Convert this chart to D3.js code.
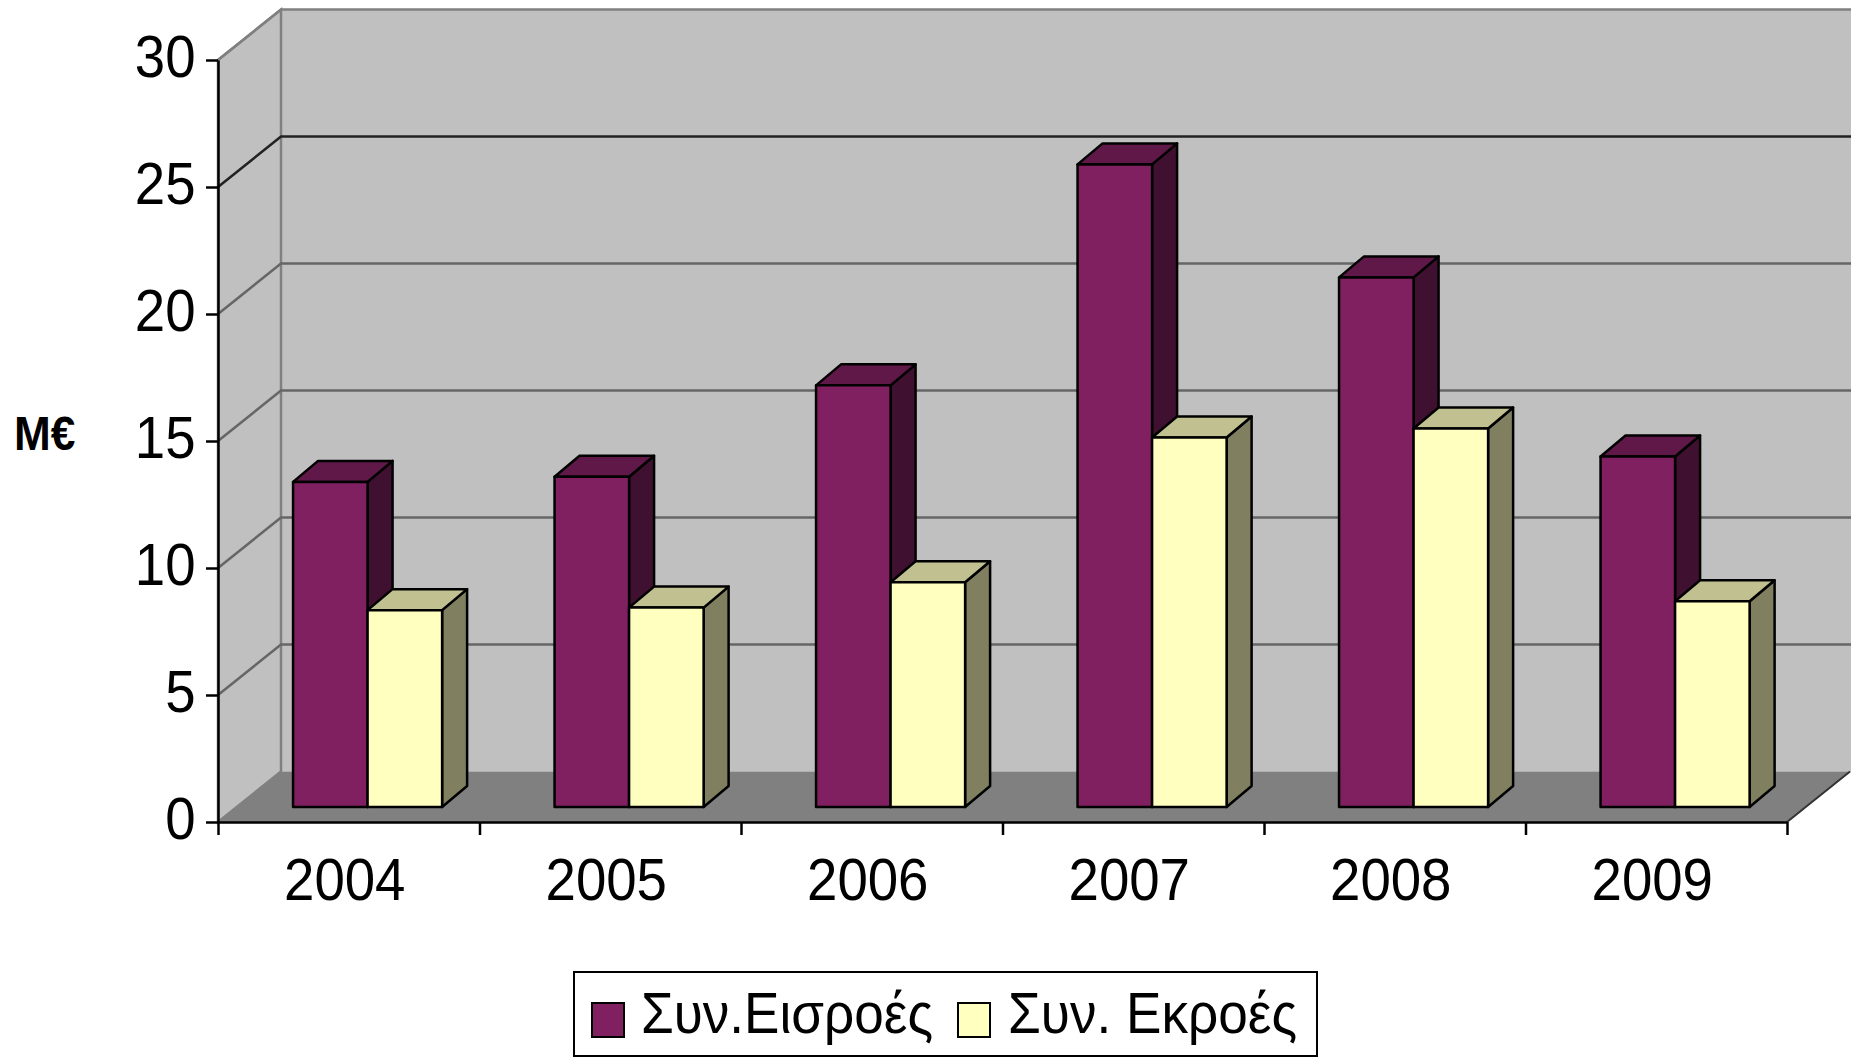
<!DOCTYPE html>
<html>
<head>
<meta charset="utf-8">
<script src="https://cdn.jsdelivr.net/npm/d3@7"></script>
<style>
html, body { margin: 0; padding: 0; background: #fff; overflow: hidden; }
text { font-family: "Liberation Sans", Arial, sans-serif; fill: #000; }
</style>
</head>
<body>
<script>
var years = ["2004", "2005", "2006", "2007", "2008", "2009"];
var inflows = [12.8, 13.0, 16.6, 25.3, 20.85, 13.8];
var outflows = [7.75, 7.85, 8.85, 14.55, 14.9, 8.1];
var yTicks = [0, 5, 10, 15, 20, 25, 30];
var seriesNames = ["Συν.Εισροές", "Συν. Εκροές"];

var width = 1851, height = 1057;
var plotLeft = 218, plotRight = 1787, plotBottom = 822, plotTop = 60;
// depth of the 3d box and of each bar
var depthX = 63, depthY = 50.5;
var barDepthX = 25, barDepthY = 21;
var barShiftY = 15;

var svg = d3.select("body").append("svg").attr("width", width).attr("height", height);

var y = d3.scaleLinear().domain([0, 30]).range([plotBottom, plotTop]);
var x = d3.scaleBand().domain(years).range([plotLeft, plotRight]);
var xEdge = d3.scaleLinear().domain([0, years.length]).range([plotLeft, plotRight]);
var line = d3.line();

// walls and floor
svg.append("path")
    .attr("d", line([[plotLeft + depthX, plotTop - depthY], [width, plotTop - depthY], [width, plotBottom - depthY], [plotLeft + depthX, plotBottom - depthY]]))
    .attr("fill", "#c0c0c0");
svg.append("path")
    .attr("d", line([[plotLeft, plotTop], [plotLeft + depthX, plotTop - depthY], [plotLeft + depthX, plotBottom - depthY], [plotLeft, plotBottom]]) + "Z")
    .attr("fill", "#c0c0c0")
    .attr("stroke", "#808080").attr("stroke-width", 2.5);
svg.append("path")
    .attr("d", line([[plotLeft, plotBottom], [plotLeft + depthX, plotBottom - depthY], [width, plotBottom - depthY], [plotRight, plotBottom]]) + "Z")
    .attr("fill", "#808080");
svg.append("path")
    .attr("d", line([[plotRight, plotBottom], [plotRight + depthX, plotBottom - depthY]]))
    .attr("stroke", "#333").attr("stroke-width", 2).attr("fill", "none");

// gridlines
yTicks.forEach(function(t) {
    if (t == 0) return;
    var g = t == 30 ? "#808080" : (t == 25 ? "#222" : "#666");
    svg.append("path")
        .attr("d", line([[plotLeft, y(t)], [plotLeft + depthX, y(t) - depthY], [width, y(t) - depthY]]))
        .attr("fill", "none").attr("stroke", g).attr("stroke-width", 2.5);
});

function drawBar(px, w, value, front, topc, side) {
    var base = plotBottom - barShiftY;
    var h = y(0) - y(value);
    var x0 = px, x1 = px + w, yt = base - h;
    var g = svg.append("g").attr("stroke", "#000").attr("stroke-width", 2.5).attr("stroke-linejoin", "round");
    g.append("path")
        .attr("d", line([[x1, yt], [x1 + barDepthX, yt - barDepthY], [x1 + barDepthX, base - barDepthY], [x1, base]]) + "Z")
        .attr("fill", side);
    g.append("path")
        .attr("d", line([[x0, yt], [x0 + barDepthX, yt - barDepthY], [x1 + barDepthX, yt - barDepthY], [x1, yt]]) + "Z")
        .attr("fill", topc);
    g.append("rect")
        .attr("x", x0).attr("y", yt).attr("width", w).attr("height", h)
        .attr("fill", front);
}

var barW = x.bandwidth() * 0.285;
var barOff = x.bandwidth() * 0.287;
years.forEach(function(year, i) {
    var bx = x(year) + barOff;
    drawBar(bx, barW, inflows[i], "#802060", "#601848", "#401030");
    drawBar(bx + barW, barW, outflows[i], "#ffffc0", "#c0c090", "#808060");
});

// squeeze labels a bit, the original picture is stretched
function squeeze(sel, k) {
    sel.each(function() {
        var len = this.getComputedTextLength();
        d3.select(this).attr("textLength", len * k).attr("lengthAdjust", "spacingAndGlyphs");
    });
}

// axes
var yAxis = svg.append("g")
    .attr("transform", "translate(" + plotLeft + ",0)")
    .call(d3.axisLeft(y).tickValues(yTicks).tickSize(12).tickPadding(10.5).tickSizeOuter(0));
var xTicks = svg.append("g")
    .attr("transform", "translate(0," + plotBottom + ")")
    .call(d3.axisBottom(xEdge).tickValues(d3.range(years.length + 1)).tickSize(13).tickSizeOuter(0).tickFormat(""));
var xLabels = svg.append("g")
    .attr("transform", "translate(-4," + plotBottom + ")")
    .call(d3.axisBottom(x).tickSize(0).tickPadding(35));
xLabels.select(".domain").remove();

[yAxis, xTicks].forEach(function(a) {
    a.selectAll(".domain, line").attr("stroke", "#000").attr("stroke-width", 2.5);
});
[yAxis, xLabels].forEach(function(a) {
    a.attr("font-family", null);
    a.selectAll("text").attr("font-size", 60);
    squeeze(a.selectAll("text"), 0.91);
});
yAxis.selectAll("text").attr("dy", "0.28em");

var unitLabel = svg.append("text")
    .attr("x", 14).attr("y", 450)
    .attr("font-size", 49).attr("font-weight", "bold")
    .text("M€");
squeeze(unitLabel, 0.9);

// legend
var legend = svg.append("g");
legend.append("rect")
    .attr("x", 574).attr("y", 972).attr("width", 743).attr("height", 84)
    .attr("fill", "#fff").attr("stroke", "#000").attr("stroke-width", 2);
var legendItems = [
    { swatch: 592, textX: 641, len: 292, color: "#802060" },
    { swatch: 958, textX: 1008, len: 289, color: "#ffffc0" }
];
legendItems.forEach(function(d, i) {
    legend.append("rect")
        .attr("x", d.swatch).attr("y", 1003).attr("width", 32).attr("height", 34)
        .attr("fill", d.color).attr("stroke", "#000").attr("stroke-width", 2);
    legend.append("text")
        .attr("x", d.textX).attr("y", 1033)
        .attr("font-size", 58)
        .attr("textLength", d.len).attr("lengthAdjust", "spacingAndGlyphs")
        .text(seriesNames[i]);
});
</script>
</body>
</html>
